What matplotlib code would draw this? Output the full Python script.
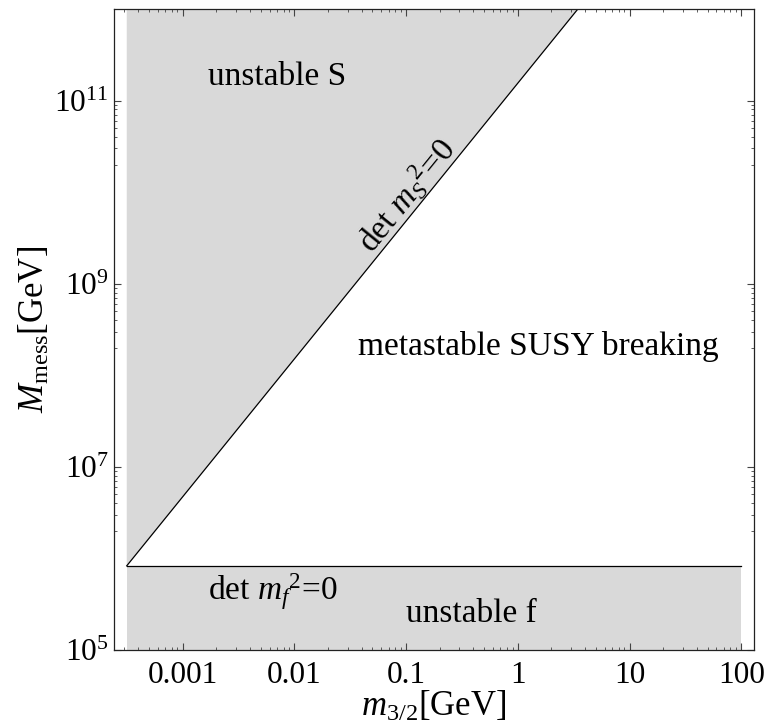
import numpy as np
import matplotlib
matplotlib.use("Agg")
import matplotlib.pyplot as plt
from matplotlib.ticker import FixedLocator, NullFormatter

plt.rcParams['font.family'] = ['Liberation Serif', 'DejaVu Serif']
plt.rcParams['mathtext.fontset'] = 'custom'
plt.rcParams['mathtext.rm'] = 'Liberation Serif'
plt.rcParams['mathtext.it'] = 'Liberation Serif:italic'

# ---- data ----
x_min, x_max = 10**-3.5, 100.0          # plotted domain of m_{3/2}
diag_x = [10**-3.5, 3.45]               # det m_S^2 = 0 line
diag_y = [8.3e5, 1.0e12]
flat_y = 8.3e5                          # det m_f^2 = 0 line
xlim = [10**-3.614, 130.0]
ylim = [1e5, 1e12]
x_ticks = [1e-3, 1e-2, 1e-1, 1, 10, 100]
x_ticklabels = ['0.001', '0.01', '0.1', '1', '10', '100']
y_ticks = [1e5, 1e7, 1e9, 1e11]
y_ticklabels = [r'$10^{5}$', r'$10^{7}$', r'$10^{9}$', r'$10^{11}$']

gray = '#d9d9d9'
fs_tick = 22.5
fs_lab = 25
fs_txt = 24

fig = plt.figure(figsize=(7.68, 7.28), dpi=100)
ax = fig.add_axes([114/768, 1-650/728, 640/768, 641/728])
ax.set_xscale('log')
ax.set_yscale('log')
ax.set_xlim(*xlim)
ax.set_ylim(*ylim)

# unstable S region (above diagonal)
ax.fill([diag_x[0], diag_x[1], diag_x[0]], [diag_y[0], diag_y[1], diag_y[1]],
        color=gray, lw=0, zorder=1)
# unstable f region (below flat line)
ax.fill_between([x_min, x_max], [ylim[0]]*2, [flat_y]*2, color=gray, lw=0, zorder=1)

ax.plot(diag_x, diag_y, color='black', lw=0.9, zorder=2)
ax.plot([x_min, x_max], [flat_y, flat_y], color='black', lw=0.9, zorder=2)

# ticks
ax.xaxis.set_major_locator(FixedLocator(x_ticks))
ax.set_xticklabels(x_ticklabels)
xminor = [k * 10.0**e for e in range(-4, 3) for k in range(2, 10)]
ax.xaxis.set_minor_locator(FixedLocator(xminor))
ax.xaxis.set_minor_formatter(NullFormatter())
ax.yaxis.set_major_locator(FixedLocator(y_ticks))
ax.set_yticklabels(y_ticklabels)
yminor = [k * 10.0**e for e in (4, 6, 8, 10) for k in range(2, 10)]
ax.yaxis.set_minor_locator(FixedLocator(yminor))
ax.yaxis.set_minor_formatter(NullFormatter())

ax.tick_params(which='both', direction='in', top=True, right=True,
               color='#444444', labelsize=fs_tick)
ax.tick_params(which='major', length=5, width=0.8)
ax.tick_params(which='minor', length=2.5, width=0.6)
ax.tick_params(axis='x', which='major', pad=8)
ax.tick_params(axis='y', which='major', pad=4)
for s in ax.spines.values():
    s.set_linewidth(0.9)
    s.set_color('#222222')

ax.set_xlabel(r'$m_{3/2}$[GeV]', fontsize=fs_lab, labelpad=0)
ax.set_ylabel(r'$M_{\mathrm{mess}}$[GeV]', fontsize=fs_lab, labelpad=2)

# annotations
ax.text(1.68e-3, 1.48e11, 'unstable S', fontsize=fs_txt, ha='left', va='baseline')
ax.text(0.037, 1.67e8, 'metastable SUSY breaking', fontsize=fs_txt, ha='left', va='baseline')
ax.text(1.68e-3, 3.5e5, r'det $m_f{}^2$=0', fontsize=fs_txt, ha='left', va='baseline')
ax.text(0.1, 2.02e5, 'unstable f', fontsize=fs_txt, ha='left', va='baseline')

# rotated label along the diagonal
p1 = ax.transData.transform((diag_x[0], diag_y[0]))
p2 = ax.transData.transform((diag_x[1], diag_y[1]))
ang = np.degrees(np.arctan2(p2[1] - p1[1], p2[0] - p1[0]))
th = np.radians(ang)
off = 3.0
ax.annotate(r'det $m_S{}^2$=0', xy=(0.13, 7.2e9), xycoords='data',
            xytext=(-np.sin(th) * off, np.cos(th) * off), textcoords='offset points',
            fontsize=fs_txt, ha='center', va='baseline', rotation=ang,
            rotation_mode='anchor')

fig.savefig('out.png', dpi=100)
